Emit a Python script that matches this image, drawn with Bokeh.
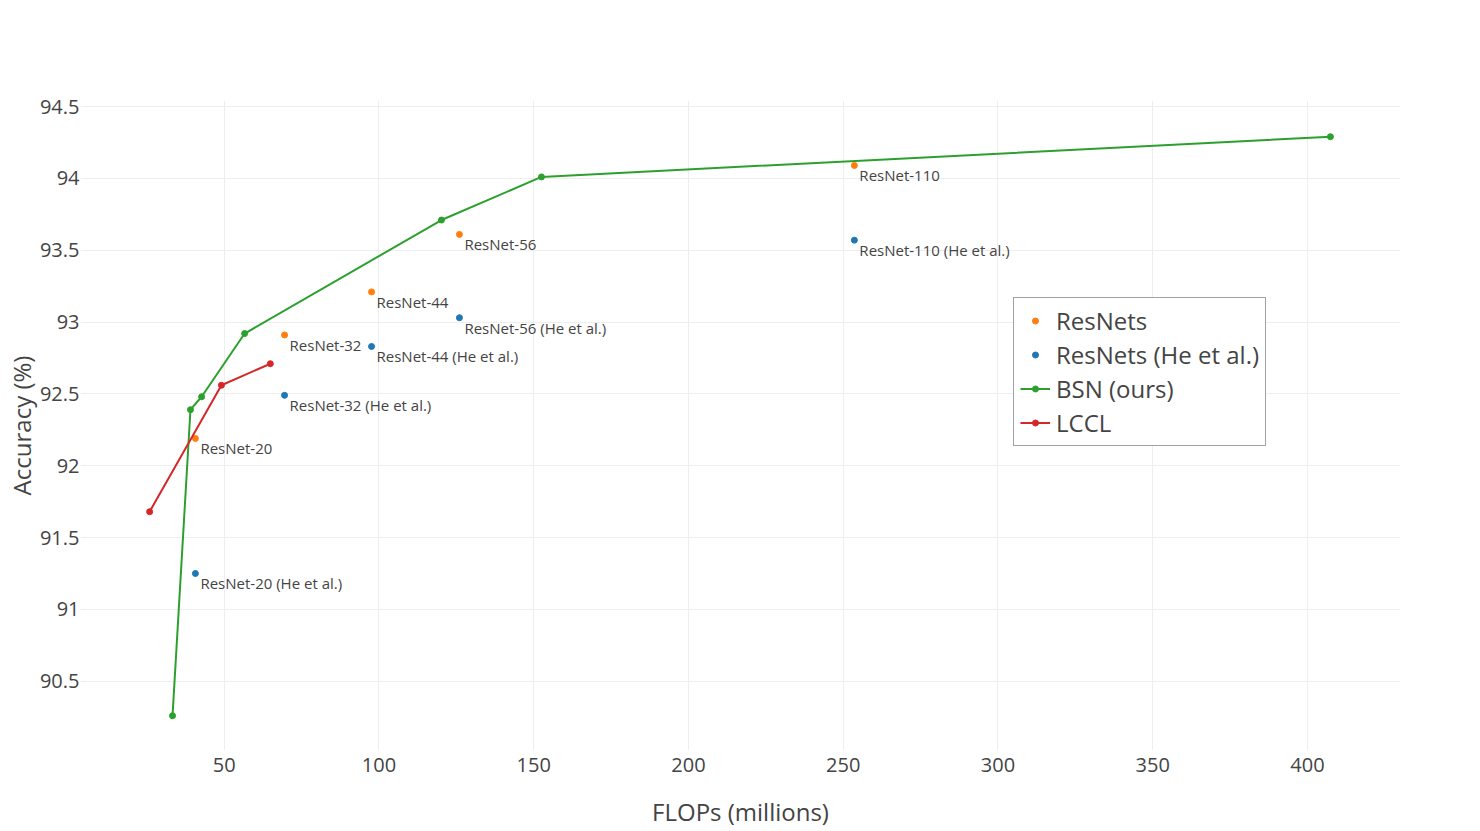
from bokeh.plotting import figure
from bokeh.models import (ColumnDataSource, Range1d, FixedTicker, NumeralTickFormatter,
                          Legend, LegendItem)
from bokeh.core.properties import value
from bokeh.embed import file_html
from bokeh.resources import INLINE

# ---------------- data ----------------
resnet_flops = [40.7, 69.5, 97.6, 126.0, 253.6]
resnet_acc = [92.19, 92.91, 93.21, 93.61, 94.09]
resnet_labels = ["ResNet-20", "ResNet-32", "ResNet-44", "ResNet-56", "ResNet-110"]

he_flops = [40.7, 69.5, 97.6, 126.0, 253.6]
he_acc = [91.25, 92.49, 92.83, 93.03, 93.57]
he_labels = ["ResNet-20 (He et al.)", "ResNet-32 (He et al.)", "ResNet-44  (He et al.)",
             "ResNet-56  (He et al.)", "ResNet-110 (He et al.)"]

bsn_flops = [33.3, 39.1, 42.7, 56.6, 120.2, 152.5, 407.4]
bsn_acc = [90.26, 92.39, 92.48, 92.92, 93.71, 94.01, 94.29]

lccl_flops = [25.9, 49.1, 64.9]
lccl_acc = [91.68, 92.56, 92.71]

x_ticks = [50, 100, 150, 200, 250, 300, 350, 400]
y_ticks = [90.5, 91, 91.5, 92, 92.5, 93, 93.5, 94, 94.5]

x_title = "FLOPs (millions)"
y_title = "Accuracy (%)"

FONT = "Open Sans"
TXT = "#444444"

p = figure(width=1480, height=831, output_backend="svg", toolbar_location=None,
           x_range=Range1d(3.57, 430.05), y_range=Range1d(90.018, 94.542),
           min_border_left=80, min_border_right=80, min_border_top=100, min_border_bottom=81)
p.outline_line_color = None
p.background_fill_color = "white"
p.border_fill_color = "white"

for ax in (p.xaxis[0], p.yaxis[0]):
    ax.axis_line_color = None
    ax.major_tick_line_color = None
    ax.minor_tick_line_color = None
    ax.major_tick_out = 0
    ax.major_tick_in = 0
    ax.minor_tick_out = 0
    ax.minor_tick_in = 0
    ax.major_label_text_font = FONT
    ax.major_label_text_color = TXT
    ax.major_label_text_font_size = "20px"
    ax.axis_label_text_font = FONT
    ax.axis_label_text_color = TXT
    ax.axis_label_text_font_size = "24px"
    ax.axis_label_text_font_style = "normal"
    ax.axis_label_text_line_height = 1.0

p.xaxis.ticker = FixedTicker(ticks=x_ticks)
p.yaxis.ticker = FixedTicker(ticks=y_ticks)
p.yaxis.formatter = NumeralTickFormatter(format="0.[0]")
p.xaxis.axis_label = x_title
p.yaxis.axis_label = y_title
p.xaxis.major_label_standoff = 7
p.yaxis.major_label_standoff = 1
p.xaxis.axis_label_standoff = 20
p.yaxis.axis_label_standoff = -1

p.xgrid.grid_line_color = "#eeeeee"
p.ygrid.grid_line_color = "#eeeeee"
p.xgrid.grid_line_width = 1
p.ygrid.grid_line_width = 1

src_r = ColumnDataSource(dict(x=resnet_flops, y=resnet_acc, t=resnet_labels))
src_h = ColumnDataSource(dict(x=he_flops, y=he_acc, t=he_labels))

r_res = p.scatter("x", "y", source=src_r, size=6, color="#ff7f0e")
p.text("x", "y", text="t", source=src_r, x_offset=5, y_offset=0,
       text_font=value(FONT), text_font_size="15px", text_color=TXT,
       text_baseline="top", text_align="left")
r_he = p.scatter("x", "y", source=src_h, size=6, color="#1f77b4")
p.text("x", "y", text="t", source=src_h, x_offset=5, y_offset=0,
       text_font=value(FONT), text_font_size="15px", text_color=TXT,
       text_baseline="top", text_align="left")

bl = p.line(bsn_flops, bsn_acc, line_color="#2ca02c", line_width=2)
bs = p.scatter(bsn_flops, bsn_acc, size=6, color="#2ca02c")
ll = p.line(lccl_flops, lccl_acc, line_color="#d62728", line_width=2)
ls = p.scatter(lccl_flops, lccl_acc, size=6, color="#d62728")

legend = Legend(items=[
    LegendItem(label="ResNets", renderers=[r_res]),
    LegendItem(label="ResNets (He et al.)", renderers=[r_he]),
    LegendItem(label="BSN (ours)", renderers=[bl, bs]),
    LegendItem(label="LCCL", renderers=[ll, ls]),
], location=(933, 304))
legend.label_text_font = FONT
legend.label_text_font_size = "24px"
legend.label_text_color = TXT
legend.border_line_color = TXT
legend.border_line_width = 1
legend.background_fill_alpha = 1
legend.glyph_width = 30
legend.glyph_height = 15
legend.label_height = 15
legend.label_standoff = 6
legend.spacing = 1
legend.padding = 6
legend.margin = 0
p.add_layout(legend)

open("out.html", "w").write(file_html(p, INLINE))
